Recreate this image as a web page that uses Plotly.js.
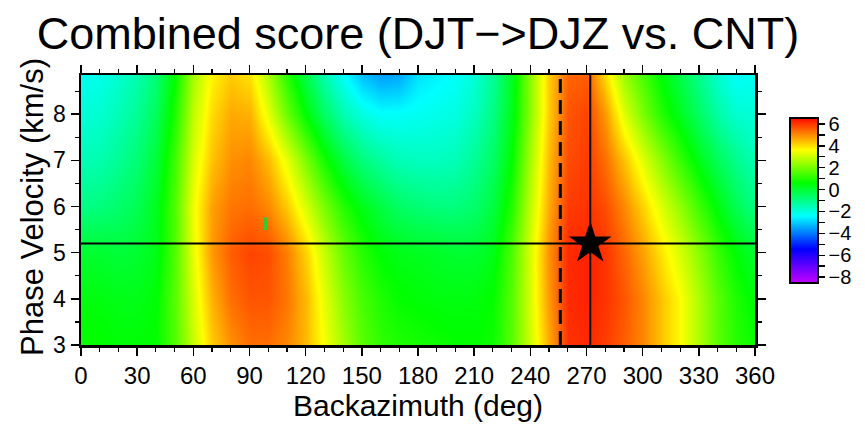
<!DOCTYPE html>
<html>
<head>
<meta charset="utf-8">
<script src="https://cdn.plot.ly/plotly-3.0.1.min.js"></script>
<style>html,body{margin:0;padding:0;background:#fff;}#chart{width:865px;height:429px;}</style>
</head>
<body>
<div id="chart"></div>
<script>
// Backazimuth grid (deg) and phase velocity grid (km/s)
const backazimuth = [0,10,20,30,40,50,60,70,80,90,100,110,120,130,140,150,160,170,180,190,200,210,220,230,240,250,260,270,280,290,300,310,320,330,340,350,360];
const velocity = [3.0, 4.0, 5.0, 6.0, 7.0, 8.0, 8.85];
// Combined score, one row per velocity
const score_v3_0 = [0.7,0.6,0.5,0.5,0.6,1.5,2.9,4.2,4.9,5.3,5.3,5.0,4.4,3.5,2.5,1.6,1.1,0.9,0.8,0.7,0.6,0.6,0.7,1.6,3.0,4.6,6.0,6.1,5.9,5.5,5.0,4.3,3.6,2.6,1.6,1.0,0.7];
const score_v4_0 = [0.4,0.4,0.3,0.3,0.5,1.6,3.1,4.5,5.3,5.6,5.6,5.2,4.4,3.3,2.2,1.4,0.9,0.6,0.5,0.4,0.4,0.4,0.6,1.6,3.1,4.8,6.1,6.2,6.0,5.6,5.0,4.3,3.6,2.6,1.6,0.9,0.4];
const score_v5_0 = [0.0,0.0,-0.1,0.0,0.3,1.5,3.3,4.8,5.5,5.8,5.7,5.1,4.1,2.9,1.8,1.0,0.5,0.3,0.2,0.1,0.0,0.0,0.3,1.5,3.1,4.9,6.1,6.2,6.0,5.4,4.7,3.9,3.1,2.2,1.2,0.5,0.0];
const score_v6_0 = [-1.0,-0.9,-0.7,-0.4,0.2,1.5,3.4,4.7,5.2,5.3,5.0,4.2,3.1,2.0,1.0,0.3,-0.2,-0.6,-0.8,-0.9,-0.9,-0.7,-0.2,1.0,2.8,4.6,5.9,6.0,5.7,5.0,4.1,3.2,2.3,1.3,0.4,-0.4,-1.0];
const score_v7_0 = [-1.6,-1.5,-1.2,-0.8,-0.1,1.3,3.1,4.3,4.9,5.0,4.4,3.3,2.0,0.8,-0.2,-0.9,-1.3,-1.6,-1.7,-1.7,-1.6,-1.2,-0.6,0.6,2.5,4.4,5.7,5.9,5.3,4.3,3.2,2.2,1.2,0.3,-0.5,-1.1,-1.6];
const score_v8_0 = [-2.0,-1.9,-1.6,-1.2,-0.5,0.9,2.8,4.0,4.6,4.5,3.3,1.8,0.5,-0.6,-1.5,-2.1,-2.4,-2.4,-2.3,-2.2,-2.1,-1.7,-1.0,0.3,2.2,4.2,5.6,5.8,4.8,3.2,2.0,1.0,0.2,-0.6,-1.4,-1.9,-2.0];
const score_v8_85 = [-2.3,-2.2,-1.9,-1.5,-0.8,0.6,2.5,3.7,4.2,3.9,2.6,1.0,-0.3,-1.5,-2.4,-3.2,-3.6,-3.5,-2.8,-2.6,-2.4,-2.0,-1.2,0.2,2.2,4.2,5.4,5.5,4.0,2.4,1.4,0.5,-0.3,-1.1,-1.9,-2.4,-2.3];

// Reference lines / markers
const bestVelocity = 5.2;
const bestAzimuth = 272;
const dashedAzimuth = 256;
const greenMarkX = [98.5];
const greenMarkY = [5.63];
const xRange = [0, 360];
const yRange = [3, 8.85];
const xTickVals = [0,30,60,90,120,150,180,210,240,270,300,330,360];
const yTickVals = [3,4,5,6,7,8];
const cbTickVals = [-8,-7,-6,-5,-4,-3,-2,-1,0,1,2,3,4,5,6];
const cbTickText = cbTickVals.map(v => (v % 2 === 0) ? (v < 0 ? '\u2212' + Math.abs(v) : String(v)) : '');

const zGrid = [score_v3_0, score_v4_0, score_v5_0, score_v6_0, score_v7_0, score_v8_0, score_v8_85];

const rainbow = [
  [0.0, 'rgb(190,0,255)'],
  [0.2, 'rgb(0,0,255)'],
  [0.4, 'rgb(0,255,255)'],
  [0.6, 'rgb(0,255,0)'],
  [0.8, 'rgb(255,255,0)'],
  [1.0, 'rgb(255,0,0)']
];

const FONT = 'Liberation Sans, Arial, Helvetica, sans-serif';

const traces = [
  {
    type: 'heatmap',
    x: backazimuth, y: velocity, z: zGrid,
    zmin: -8.5, zmax: 6.6,
    colorscale: rainbow,
    zsmooth: 'best',
    hoverinfo: 'skip',
    colorbar: {
      thickness: 28, len: 185, lenmode: 'pixels',
      xpad: 10, ypad: 10,
      x: (780 - 81) / 674, xanchor: 'left', xref: 'paper',
      y: (345 - 200) / 270, yanchor: 'middle', yref: 'paper',
      outlinewidth: 2, outlinecolor: '#000',
      ticks: 'outside', ticklen: 6, tickwidth: 1.3, tickcolor: '#000',
      tickvals: cbTickVals, ticktext: cbTickText,
      tickfont: {family: FONT, size: 20, color: '#000'},
      ticklabelpad: 3
    }
  },
  {
    type: 'scatter', mode: 'lines',
    x: xRange, y: [bestVelocity, bestVelocity],
    line: {color: '#000', width: 2}, hoverinfo: 'skip', showlegend: false
  },
  {
    type: 'scatter', mode: 'lines',
    x: [bestAzimuth, bestAzimuth], y: yRange,
    line: {color: '#000', width: 2}, hoverinfo: 'skip', showlegend: false
  },
  {
    type: 'scatter', mode: 'lines',
    x: [dashedAzimuth, dashedAzimuth], y: yRange,
    line: {color: '#000', width: 3, dash: '14px,7px'}, hoverinfo: 'skip', showlegend: false
  },
  {
    type: 'scatter', mode: 'markers',
    x: greenMarkX, y: greenMarkY,
    marker: {symbol: 'line-ns', size: 9, line: {color: 'rgb(60,200,40)', width: 4}},
    hoverinfo: 'skip', showlegend: false
  },
  {
    type: 'scatter', mode: 'markers',
    x: [bestAzimuth], y: [bestVelocity],
    marker: {symbol: 'star', size: 32, color: '#000', line: {width: 0}},
    hoverinfo: 'skip', showlegend: false
  }
];

const layout = {
  width: 865, height: 429,
  margin: {l: 81, r: 110, t: 75, b: 84, autoexpand: false},
  paper_bgcolor: '#fff', plot_bgcolor: '#fff',
  showlegend: false,
  font: {family: FONT, color: '#000'},
  title: {
    text: 'Combined score (DJT\u2212>DJZ vs. CNT)',
    font: {family: FONT, size: 45, color: '#000'},
    x: 0.5, xref: 'paper', xanchor: 'center',
    y: 1 - 33/429, yref: 'container', yanchor: 'middle'
  },
  xaxis: {
    range: xRange, tickvals: xTickVals,
    ticks: 'outside', ticklen: 8, tickwidth: 1.5, tickcolor: '#000',
    minor: {dtick: 10, tick0: 0, ticks: 'outside', ticklen: 4, tickwidth: 1.2, tickcolor: '#000'},
    showline: true, linewidth: 2.5, linecolor: '#000', mirror: 'ticks',
    showgrid: false, zeroline: false, automargin: false,
    tickfont: {family: FONT, size: 24, color: '#000'},
    title: {text: 'Backazimuth (deg)', font: {family: FONT, size: 30, color: '#000'}, standoff: 4}
  },
  yaxis: {
    range: yRange, tickvals: yTickVals,
    ticks: 'outside', ticklen: 8, tickwidth: 1.5, tickcolor: '#000',
    minor: {dtick: 0.5, tick0: 0, ticks: 'outside', ticklen: 4, tickwidth: 1.2, tickcolor: '#000'},
    showline: true, linewidth: 2.5, linecolor: '#000', mirror: 'ticks',
    showgrid: false, zeroline: false, automargin: false,
    tickfont: {family: FONT, size: 23, color: '#000'}
  },
  annotations: [{
    text: 'Phase Velocity (km/s)',
    xref: 'paper', yref: 'paper',
    x: (32 - 81) / 674, y: (345 - 207) / 270,
    xanchor: 'center', yanchor: 'middle',
    textangle: -90, showarrow: false,
    font: {family: FONT, size: 31, color: '#000'}
  }]
};

Plotly.newPlot('chart', traces, layout, {displayModeBar: false, staticPlot: true});
</script>
</body>
</html>
